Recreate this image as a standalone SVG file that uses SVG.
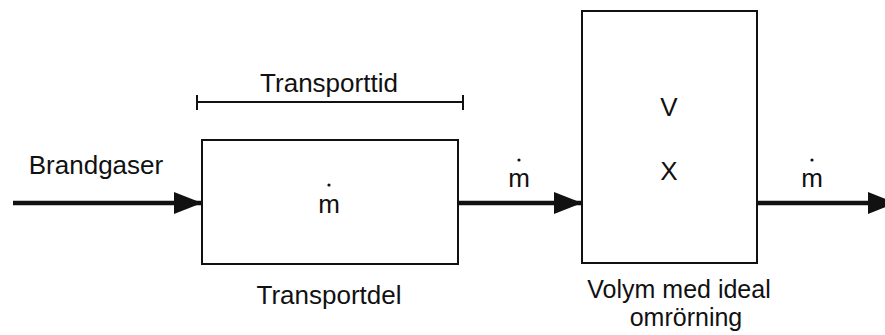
<svg xmlns="http://www.w3.org/2000/svg" width="885" height="335" viewBox="0 0 885 335">
<style>
text{font-family:"Liberation Sans",Arial,sans-serif;font-size:26px;fill:#111;text-anchor:middle}
.cap{font-size:25px}
.box{fill:#fff;stroke:#111;stroke-width:2}
.flow{stroke:#111;stroke-width:4.5;fill:none;marker-end:url(#ah)}
.dim{stroke:#111;stroke-width:2;fill:none}
.dot{fill:#111}
</style>
<defs>
<marker id="ah" markerUnits="userSpaceOnUse" markerWidth="30" markerHeight="24" refX="28" refY="11" orient="auto">
<polygon points="0,0 28,11 0,22" fill="#111"/>
</marker>
</defs>
<g id="connectors">
<line class="flow" x1="13" y1="203" x2="202" y2="203"/>
<line class="flow" x1="458" y1="203" x2="582" y2="203"/>
<line class="flow" x1="757" y1="203" x2="896" y2="203"/>
</g>
<g id="transporttid">
<path class="dim" d="M197,102 H463 M197,95 V110 M463,95 V110"/>
<text x="329" y="92">Transporttid</text>
</g>
<g id="brandgaser">
<text x="96" y="174">Brandgaser</text>
</g>
<g id="transportdel">
<rect class="box" x="202" y="140" width="256" height="124"/>
<text x="329" y="213">m</text>
<circle class="dot" cx="329" cy="185" r="1.6"/>
<text x="329" y="304">Transportdel</text>
</g>
<g id="m1">
<text x="519" y="187">m</text>
<circle class="dot" cx="519" cy="160" r="1.6"/>
</g>
<g id="volym">
<rect class="box" x="582" y="11" width="175" height="252"/>
<text x="669" y="116">V</text>
<text x="669" y="180">X</text>
<text class="cap" x="679" y="298">Volym med ideal</text>
<text class="cap" x="686" y="326">omrörning</text>
</g>
<g id="m2">
<text x="812" y="187">m</text>
<circle class="dot" cx="812" cy="160" r="1.6"/>
</g>
</svg>
